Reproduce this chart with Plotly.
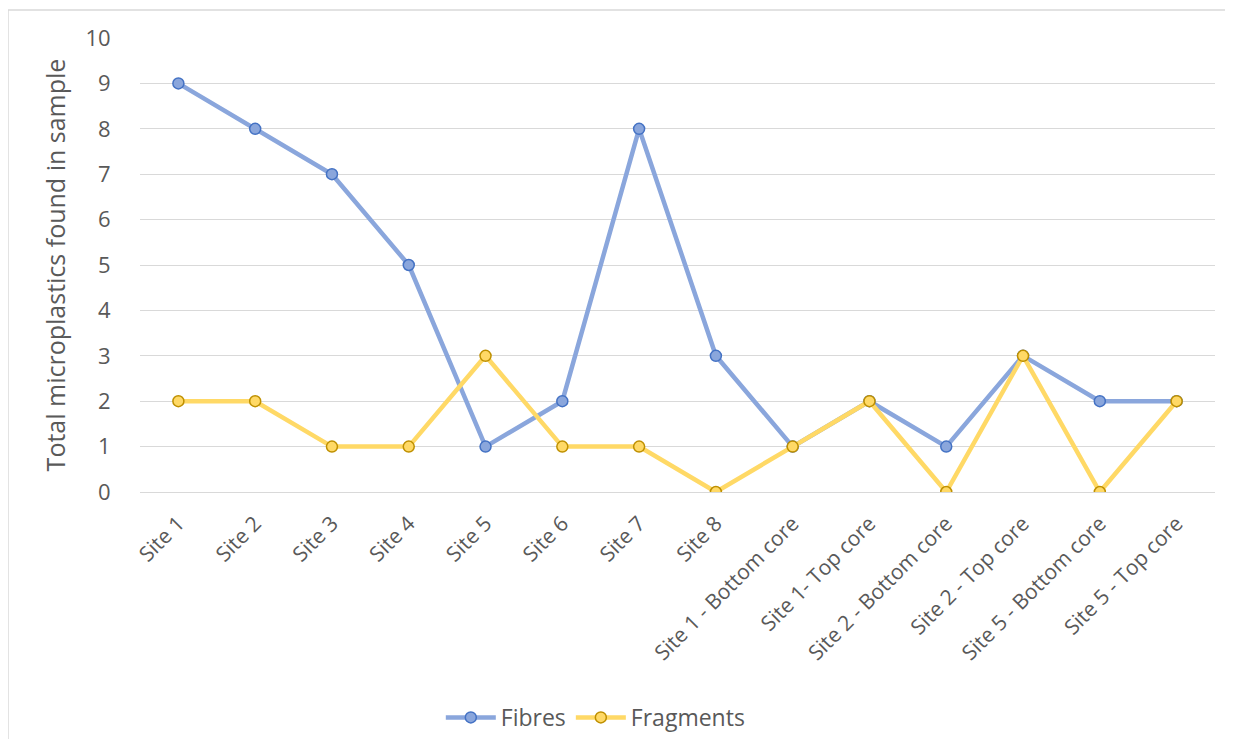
"""Microplastics per site - line chart"""
import plotly.graph_objects as go

# data
sites = [
    "Site 1", "Site 2", "Site 3", "Site 4", "Site 5", "Site 6", "Site 7", "Site 8",
    "Site 1 - Bottom core", "Site 1- Top core", "Site 2 - Bottom core",
    "Site 2 - Top core", "Site 5 - Bottom core", "Site 5 - Top core",
]
fibres = [9, 8, 7, 5, 1, 2, 8, 3, 1, 2, 1, 3, 2, 2]
fragments = [2, 2, 1, 1, 3, 1, 1, 0, 1, 2, 0, 3, 0, 2]
y_ticks = list(range(0, 11))

FONT = "Open Sans, Noto Sans, sans-serif"
GREY = "#595959"

fig = go.Figure()

fig.add_trace(go.Scatter(
    x=sites, y=fibres, name="Fibres",
    mode="lines+markers",
    line=dict(color="#8AA6DC", width=4.5),
    marker=dict(symbol="circle", size=11, color="#8AA6DC",
                line=dict(color="#4472C4", width=1.5)),
))
fig.add_trace(go.Scatter(
    x=sites, y=fragments, name="Fragments",
    mode="lines+markers",
    line=dict(color="#FFD966", width=4.5),
    marker=dict(symbol="circle", size=11, color="#FFD966",
                line=dict(color="#BF9000", width=1.5)),
))

# page body has an 8px margin, so the figure is 16px smaller than the window
fig.update_layout(
    width=1217, height=731,
    margin=dict(l=132, r=10, t=30, b=247),
    paper_bgcolor="white",
    plot_bgcolor="white",
    font=dict(family=FONT, color=GREY, size=20),
    showlegend=True,
    legend=dict(
        orientation="h",
        xref="container", yref="container",
        x=0.483, xanchor="center",
        y=0.0, yanchor="bottom",
        font=dict(size=23, color=GREY),
        itemwidth=50,
    ),
    shapes=[dict(
        type="rect", xref="paper", yref="paper",
        x0=-0.1228, x1=1.03, y0=-0.6, y1=1.0617,
        line=dict(color="#D9D9D9", width=1.5),
        layer="below",
    )],
)

fig.update_xaxes(
    type="category",
    range=[-0.5, len(sites) - 0.5],
    automargin=False,
    tickangle=-45,
    ticks="outside", ticklen=10, tickcolor="rgba(0,0,0,0)",
    showgrid=False,
    showline=True, linecolor="#D9D9D9", linewidth=1,
    tickfont=dict(size=21, color=GREY),
)
fig.update_yaxes(
    range=[0, 10],
    automargin=False,
    tickvals=y_ticks,
    ticks="outside", ticklen=24, tickcolor="rgba(0,0,0,0)",
    showgrid=True, gridcolor="#D9D9D9", gridwidth=1,
    zeroline=False,
    tickfont=dict(size=22, color=GREY),
    title=dict(text="Total microplastics found in sample",
               font=dict(size=25, color=GREY), standoff=12),
)

fig.write_html("out.html")
